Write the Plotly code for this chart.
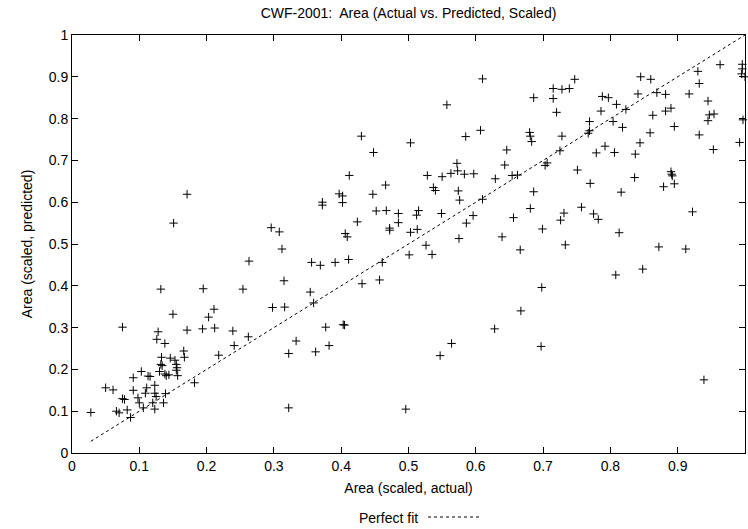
import plotly.graph_objects as go

actual = [
    0.171, 0.151, 0.296, 0.308,
    0.610, 0.557, 0.607, 0.585, 0.430, 0.503, 0.448, 0.646, 0.643, 0.572, 0.573, 0.412,
    0.528, 0.550, 0.563, 0.583, 0.597, 0.629, 0.654, 0.662, 0.466, 0.397, 0.402, 0.447,
    0.537, 0.540, 0.574, 0.576, 0.610, 0.372, 0.372, 0.402, 0.452, 0.467, 0.485, 0.515,
    0.512, 0.549, 0.596, 0.586, 0.656, 0.424, 0.485, 0.472, 0.472, 0.406, 0.409, 0.503,
    0.513, 0.575, 0.639,
    0.963, 0.996, 0.996, 0.995, 1.000, 0.930, 0.932, 0.845, 0.860, 0.747, 0.715, 0.728,
    0.739, 0.686, 0.715, 0.788, 0.797, 0.841, 0.869, 0.882, 0.917, 0.945, 0.720, 0.786,
    0.809, 0.823, 0.882, 0.890, 0.863, 0.769, 0.804, 0.818, 0.895, 0.947, 0.954, 0.945,
    0.997, 0.680, 0.681, 0.683, 0.728, 0.769, 0.767, 0.725, 0.859, 0.932, 0.844, 0.792,
    0.779, 0.806, 0.837, 0.992, 0.953, 0.703, 0.706, 0.751, 0.836, 0.890, 0.891, 0.892,
    0.770, 0.895, 0.879, 0.686, 0.816, 0.681, 0.757, 0.731, 0.726, 0.775, 0.782, 0.922,
    0.699, 0.813,
    0.312, 0.263, 0.315, 0.132, 0.195, 0.254, 0.298, 0.316, 0.211, 0.203, 0.150, 0.075,
    0.128, 0.171, 0.194, 0.212, 0.239, 0.262, 0.333, 0.126, 0.138, 0.241, 0.166, 0.167,
    0.133, 0.146, 0.153, 0.218, 0.322, 0.132, 0.134, 0.155, 0.156, 0.155, 0.103, 0.130,
    0.138, 0.140, 0.144, 0.157, 0.113, 0.116, 0.091, 0.182, 0.050, 0.061, 0.123, 0.111,
    0.091, 0.123, 0.109, 0.139, 0.075, 0.078, 0.098, 0.100, 0.125, 0.120, 0.136, 0.106,
    0.123, 0.066, 0.070, 0.082, 0.028, 0.087, 0.322,
    0.666, 0.526, 0.535, 0.501, 0.356, 0.369, 0.391, 0.411, 0.461, 0.431, 0.457, 0.354,
    0.359, 0.667, 0.377, 0.403, 0.405, 0.628, 0.382, 0.362, 0.564, 0.547, 0.496,
    0.733, 0.872, 0.912, 0.848, 0.808, 0.698, 0.697, 0.939,
]

predicted = [
    0.619, 0.550, 0.539, 0.529,
    0.895, 0.833, 0.772, 0.757, 0.758, 0.742, 0.719, 0.725, 0.689, 0.693, 0.675, 0.664,
    0.664, 0.661, 0.669, 0.667, 0.668, 0.656, 0.664, 0.665, 0.641, 0.620, 0.615, 0.619,
    0.635, 0.628, 0.627, 0.605, 0.607, 0.600, 0.593, 0.599, 0.579, 0.580, 0.573, 0.580,
    0.569, 0.573, 0.568, 0.550, 0.563, 0.553, 0.551, 0.538, 0.533, 0.525, 0.517, 0.528,
    0.535, 0.513, 0.517,
    0.929, 0.930, 0.919, 0.907, 0.900, 0.913, 0.884, 0.900, 0.894, 0.894, 0.872, 0.870,
    0.872, 0.850, 0.848, 0.853, 0.850, 0.859, 0.862, 0.858, 0.859, 0.842, 0.815, 0.818,
    0.834, 0.822, 0.818, 0.825, 0.808, 0.793, 0.793, 0.779, 0.781, 0.809, 0.811, 0.795,
    0.797, 0.767, 0.758, 0.745, 0.758, 0.771, 0.765, 0.723, 0.766, 0.761, 0.742, 0.734,
    0.718, 0.719, 0.715, 0.743, 0.726, 0.688, 0.694, 0.677, 0.659, 0.673, 0.667, 0.663,
    0.645, 0.644, 0.637, 0.625, 0.624, 0.585, 0.588, 0.574, 0.557, 0.572, 0.559, 0.577,
    0.536, 0.527,
    0.488, 0.459, 0.412, 0.392, 0.393, 0.392, 0.348, 0.349, 0.344, 0.325, 0.332, 0.301,
    0.290, 0.294, 0.297, 0.299, 0.292, 0.278, 0.268, 0.272, 0.262, 0.257, 0.244, 0.229,
    0.229, 0.227, 0.222, 0.234, 0.238, 0.212, 0.209, 0.212, 0.204, 0.198, 0.195, 0.195,
    0.189, 0.185, 0.187, 0.185, 0.184, 0.183, 0.180, 0.168, 0.156, 0.151, 0.162, 0.156,
    0.150, 0.143, 0.143, 0.142, 0.130, 0.128, 0.132, 0.120, 0.135, 0.120, 0.120, 0.108,
    0.105, 0.100, 0.096, 0.103, 0.097, 0.085, 0.108,
    0.486, 0.497, 0.475, 0.474, 0.456, 0.449, 0.456, 0.463, 0.456, 0.405, 0.414, 0.385,
    0.359, 0.340, 0.301, 0.307, 0.306, 0.297, 0.257, 0.242, 0.262, 0.233, 0.105,
    0.498, 0.493, 0.488, 0.440, 0.426, 0.396, 0.255, 0.175,
]

fit_x = [0.028, 1.0]
fit_y = [0.028, 1.0]

tick_vals = [0, 0.1, 0.2, 0.3, 0.4, 0.5, 0.6, 0.7, 0.8, 0.9, 1]
tick_text = ["0", "0.1", "0.2", "0.3", "0.4", "0.5", "0.6", "0.7", "0.8", "0.9", "1"]

FONT = "Liberation Sans, Arial, sans-serif"
FS = 14

fig = go.Figure()
fig.add_trace(go.Scatter(
    x=fit_x, y=fit_y, mode="lines", name="Perfect fit",
    line=dict(color="black", width=1, dash="3px,3px"),
    showlegend=False, hoverinfo="skip",
))
fig.add_trace(go.Scatter(
    x=actual, y=predicted, mode="markers", name="Area",
    marker=dict(symbol="cross-thin", size=6, line=dict(color="black", width=1)),
    showlegend=False, cliponaxis=False,
))

axis_common = dict(
    range=[0, 1], tickvals=tick_vals, ticktext=tick_text,
    ticks="inside", ticklen=6, tickwidth=1, tickcolor="black",
    showline=True, linecolor="black", linewidth=1, mirror="ticks",
    showgrid=False, zeroline=False,
    tickfont=dict(family=FONT, size=FS, color="black"),
)

fig.update_layout(
    width=748, height=529,
    margin=dict(l=72, r=3, t=35, b=76),
    paper_bgcolor="white", plot_bgcolor="white",
    font=dict(family=FONT, size=FS, color="black"),
    title=dict(text="CWF-2001:  Area (Actual vs. Predicted, Scaled)",
               x=0.5, xref="paper", xanchor="center",
               y=1 - 13 / 529, yref="container", yanchor="middle",
               font=dict(family=FONT, size=FS, color="black")),
    xaxis=dict(axis_common, title=dict(text="Area (scaled, actual)", standoff=10,
                                         font=dict(family=FONT, size=FS))),
    yaxis=dict(axis_common, title=dict(text="Area (scaled, predicted)", standoff=12,
                                         font=dict(family=FONT, size=FS))),
)

# legend drawn to match gnuplot style (text then line sample)
fig.add_annotation(text="Perfect fit", xref="paper", yref="paper",
                   x=(420 - 72) / 673, y=(453 - 518) / 418,
                   xanchor="right", yanchor="middle", showarrow=False,
                   font=dict(family=FONT, size=FS, color="black"))
fig.add_shape(type="line", xref="paper", yref="paper",
              x0=(428 - 72) / 673, x1=(479 - 72) / 673,
              y0=(453 - 517) / 418, y1=(453 - 517) / 418,
              line=dict(color="black", width=1, dash="3px,3px"))

fig.write_html("out.html")
